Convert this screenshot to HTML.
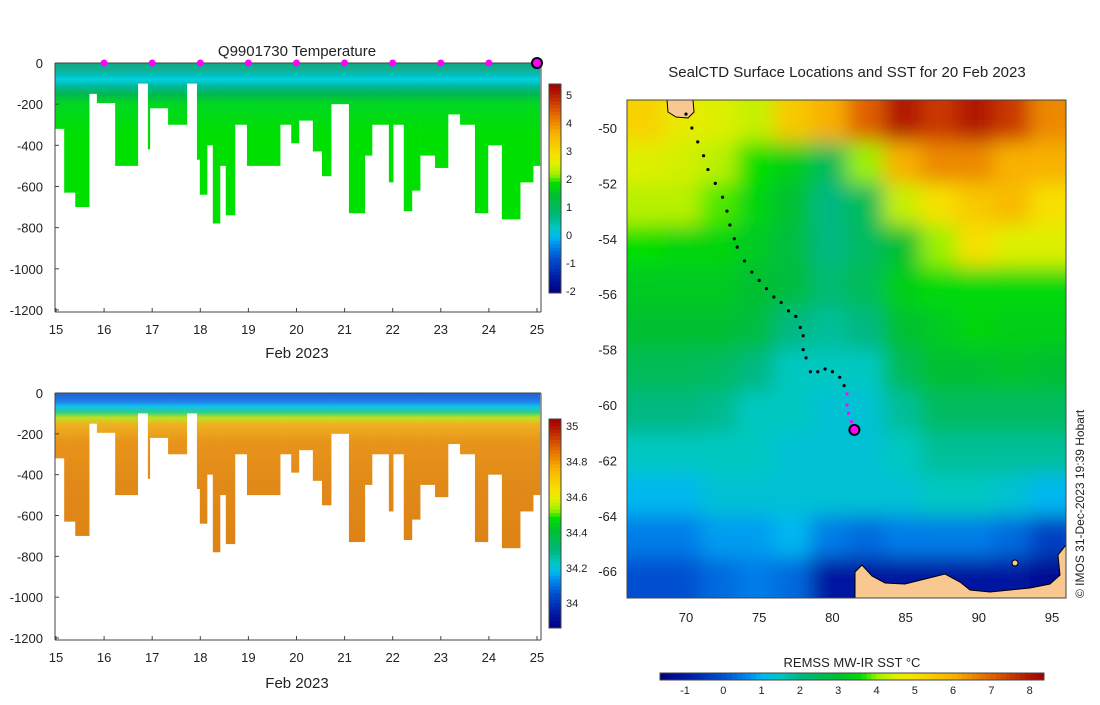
<!DOCTYPE html>
<html><head><meta charset="utf-8">
<style>
body{margin:0;background:#fff;}
svg text{font-family:"Liberation Sans","DejaVu Sans",sans-serif;font-size:13px;fill:#222;}
</style></head>
<body>
<svg id="svg" width="1100" height="700" viewBox="0 0 1100 700" xmlns="http://www.w3.org/2000/svg">
<defs>
<linearGradient id="gT" gradientUnits="userSpaceOnUse" x1="0" y1="63" x2="0" y2="310">
<stop offset="0" stop-color="#10a888"/><stop offset="0.025" stop-color="#10b090"/>
<stop offset="0.05" stop-color="#00c0c0"/><stop offset="0.067" stop-color="#00d0e0"/>
<stop offset="0.092" stop-color="#00b8a0"/><stop offset="0.125" stop-color="#00b850"/>
<stop offset="0.167" stop-color="#00d820"/><stop offset="0.3" stop-color="#00e000"/>
<stop offset="1" stop-color="#00e000"/></linearGradient>
<linearGradient id="gS" gradientUnits="userSpaceOnUse" x1="0" y1="393" x2="0" y2="638">
<stop offset="0" stop-color="#2060d0"/><stop offset="0.035" stop-color="#2080e8"/>
<stop offset="0.055" stop-color="#10c0f0"/><stop offset="0.08" stop-color="#30d080"/>
<stop offset="0.1" stop-color="#c0e020"/><stop offset="0.13" stop-color="#f0b020"/>
<stop offset="0.2" stop-color="#e8941a"/><stop offset="0.4" stop-color="#e08818"/>
<stop offset="1" stop-color="#d87c10"/></linearGradient>
<filter id="blur" filterUnits="userSpaceOnUse" x="560" y="40" width="570" height="620"><feGaussianBlur stdDeviation="10"/></filter>
<clipPath id="mapclip"><rect x="627" y="100" width="439" height="498"/></clipPath>
</defs>
<g id="g1"></g><g id="g2"></g><g id="g3"></g>
<text x="297" y="56" text-anchor="middle" style="font-size:15px">Q9901730  Temperature</text>
<text x="847" y="77" text-anchor="middle" style="font-size:15px">SealCTD Surface Locations and SST for 20 Feb 2023</text>
<text x="297" y="358" text-anchor="middle" style="font-size:15px">Feb 2023</text>
<text x="297" y="688" text-anchor="middle" style="font-size:15px">Feb 2023</text>
<text x="852" y="667" text-anchor="middle">REMSS MW-IR SST °C</text>
<text transform="translate(1084,598) rotate(-90)" style="font-size:12px">© IMOS 31-Dec-2023 19:39 Hobart</text>
</svg>
<script>
const colStart=[14.98,15.17,15.40,15.69,15.85,16.23,16.70,16.91,16.95,17.33,17.72,17.93,17.99,18.14,18.26,18.41,18.53,18.72,18.97,19.66,19.89,20.05,20.34,20.53,20.72,21.09,21.42,21.57,21.92,22.01,22.23,22.40,22.57,22.88,23.15,23.40,23.71,23.98,24.27,24.65,24.92];
const colEnd=25.06;
const colDepth=[320,630,700,150,195,500,100,420,220,300,100,470,640,400,780,500,740,300,500,300,390,280,430,550,200,730,450,300,580,300,720,620,450,510,250,300,730,400,760,580,500];
const dayTicks=[15,16,17,18,19,20,21,22,23,24,25];
const depthTicks=[0,-200,-400,-600,-800,-1000,-1200];
const markerDays=[16,17,18,19,20,21,22,23,24];
const tempTicks=[5,4,3,2,1,0,-1,-2];
const salTicks=[35,34.8,34.6,34.4,34.2,34];
const sstTicks=[-1,0,1,2,3,4,5,6,7,8];
const mapLats=[-49.75,-51.25,-52.75,-54.25,-55.75,-57.25,-58.75,-60.25,-61.75,-63.25,-64.75,-66.25];
const mapLons=[67.25,69.75,72.25,74.75,77.25,79.75,82.25,84.75,87.25,89.75,92.25,94.75];
const sst=[
[5.3,4.7,4.5,4.3,5.5,6,7,8,7.5,8,7.5,6.5],
[4.5,4.4,4.2,3.6,3.3,2.5,4,6,6.5,6.5,6,6],
[4.2,4.2,3.8,3.4,3,2,2.5,4.3,5,5.5,5.8,5],
[3.6,3.4,3.4,3.2,2.8,2,2.4,3,4,5,4.5,4.5],
[3.2,3.2,3.2,3,2.8,2.2,2.5,3.3,3.5,3.5,3.5,3.5],
[3,3,3,2.8,2,1.8,2,3,3.2,3.4,3.3,3.3],
[2.5,2.5,2.4,2,1.5,1.5,1.5,2.5,3,3,3.1,3],
[2,2,1.9,1.5,1.5,1.3,1.3,1.8,2.4,2.4,2.4,2.4],
[1.5,1.5,1.5,1.5,1.3,1.3,1.3,1.5,1.8,1.8,1.8,1.8],
[1,1,1.3,1.3,1.3,1.3,1.3,1.3,1.5,1.5,1.3,1],
[0.5,0.5,0.8,0.8,1,0.5,0.3,0.5,0.5,0.5,0.3,-0.3],
[0,0,0.3,0.5,0.3,-1,-1,-1,-1,-1,-1,-1.3]];
const trackLon=[70,70.4,70.8,71.2,71.5,72,72.5,72.8,73,73.3,73.5,74,74.5,75,75.5,76,76.5,77,77.5,77.8,78,78,78.2,78.5,79,79.5,80,80.5,80.8,81,81,81.1,81.3,81.5];
const trackLat=[-49.5,-50,-50.5,-51,-51.5,-52,-52.5,-53,-53.5,-54,-54.3,-54.8,-55.2,-55.5,-55.8,-56.1,-56.3,-56.6,-56.8,-57.2,-57.5,-58,-58.3,-58.8,-58.8,-58.7,-58.8,-59,-59.3,-59.6,-60,-60.3,-60.6,-60.9];
const NS='http://www.w3.org/2000/svg';
function mk(p,t,a){const e=document.createElementNS(NS,t);for(const k in a)e.setAttribute(k,a[k]);p.appendChild(e);return e;}
const cmStops=[[0,[0,0,128]],[0.065,[0,24,160]],[0.165,[0,80,208]],[0.235,[0,144,240]],[0.265,[0,184,240]],[0.315,[0,200,192]],[0.365,[0,184,128]],[0.465,[0,192,48]],[0.525,[0,224,0]],[0.565,[160,240,0]],[0.615,[224,240,0]],[0.665,[248,224,0]],[0.765,[248,176,0]],[0.865,[224,96,0]],[0.965,[176,16,0]],[1,[160,0,0]]];
function jet(t){t=Math.max(0,Math.min(1,t));for(let i=1;i<cmStops.length;i++){if(t<=cmStops[i][0]){const a=cmStops[i-1],b=cmStops[i],f=(t-a[0])/(b[0]-a[0]);const c=a[1].map((v,k)=>Math.round(v+(b[1][k]-v)*f));return `rgb(${c[0]},${c[1]},${c[2]})`;}}return 'rgb(160,0,0)';}
const xd=d=>56+(d-15)*48.1;
function panel(g,y0,k,grad,name){
 const y=d=>y0-d*k;
 for(let i=0;i<colStart.length;i++){
  const e=i+1<colStart.length?colStart[i+1]:colEnd;
  const r=mk(g,'rect',{x:xd(colStart[i]),y:y0,width:xd(e)-xd(colStart[i])+0.3,height:colDepth[i]*k,fill:`url(#${grad})`});
  
  
 }
 mk(g,'line',{x1:55,y1:y0,x2:541,y2:y0,stroke:'#444'});
 mk(g,'line',{x1:55,y1:y0,x2:55,y2:y(-1200)+2,stroke:'#444'});
 mk(g,'line',{x1:541,y1:y0,x2:541,y2:y(-1200)+2,stroke:'#444'});
 mk(g,'line',{x1:55,y1:y(-1200)+2,x2:541,y2:y(-1200)+2,stroke:'#444'});
 depthTicks.forEach(v=>{const t=mk(g,'text',{x:43,y:y(v)+5,'text-anchor':'end'});t.textContent=v;
  
  mk(g,'line',{x1:55,y1:y(v),x2:59,y2:y(v),stroke:'#444'});});
 dayTicks.forEach(v=>{const t=mk(g,'text',{x:xd(v),y:y(-1200)+24,'text-anchor':'middle'});t.textContent=v;
  
  mk(g,'line',{x1:xd(v),y1:y(-1200)+2,x2:xd(v),y2:y(-1200)-2,stroke:'#444'});});
}
function vbar(g,x,top,bot,vTop,vBot,ticks,name,lo,hi){
 const n=60;for(let i=0;i<n;i++){const v=vTop-(vTop-vBot)*(i+0.5)/n;mk(g,'rect',{x:x,y:top+(bot-top)*i/n,width:12,height:(bot-top)/n+0.5,fill:jet((v-lo)/(hi-lo))});}
 mk(g,'rect',{x:x,y:top,width:12,height:bot-top,fill:'none',stroke:'#444'});
 ticks.forEach(v=>{const yy=top+(vTop-v)/(vTop-vBot)*(bot-top);const t=mk(g,'text',{x:x+17,y:yy+4,style:'font-size:11px'});t.textContent=v;
  });
}
const g1=document.getElementById('g1');
panel(g1,63,0.2058,'gT','temp');
markerDays.forEach(d=>{const p=mk(g1,'circle',{cx:xd(d),cy:63,r:3.5,fill:'#ff00ff'});
 });
mk(g1,'circle',{cx:xd(25),cy:63,r:5,fill:'#ff00ff',stroke:'#000','stroke-width':2});
vbar(g1,549,84,293,5.4,-2.07,tempTicks,'temp-colorbar',-2.07,5.4);
const g2=document.getElementById('g2');
panel(g2,393,0.2042,'gS','sal');
vbar(g2,549,419,628,35.04,33.86,salTicks,'sal-colorbar',33.86,35.04);
const g3=document.getElementById('g3');
const lx=l=>686+(l-70)*14.64, ly=l=>128+(-50-l)*27.7;
const mg=mk(g3,'g',{'clip-path':'url(#mapclip)'});
mk(mg,'rect',{x:627,y:100,width:439,height:498,fill:jet((2+1.65)/10)});
const hg=mk(mg,'g',{filter:'url(#blur)'});
mapLats.forEach((la,i)=>mapLons.forEach((lo,j)=>{const c=mk(hg,'rect',{x:lx(lo-1.25)-(j==0?30:0),y:ly(la+0.75)-(i==0?30:0),width:14.64*2.5+(j==0||j==11?30:0)+1,height:27.7*1.5+(i==0||i==11?30:0)+1,fill:jet((sst[i][j]+1.65)/10.02)});
 }));
const land=mk(mg,'path',{d:`M855,598 L855,572 L862,565 L872,576 L885,583 L905,584 L925,579 L945,574 L960,582 L970,590 L990,592 L1010,590 L1030,588 L1050,584 L1060,575 L1058,555 L1066,545 L1066,598 Z`,fill:'#f8c890',stroke:'#000','stroke-width':1});

const isl=mk(mg,'path',{d:'M667,100 L693,100 L694,112 L688,118 L676,117 L668,112 Z',fill:'#f8c890',stroke:'#000'});

mk(mg,'circle',{cx:1015,cy:563,r:3,fill:'#f8c890',stroke:'#000'});
trackLon.forEach((lo,i)=>{const c=mk(mg,'circle',{cx:lx(lo),cy:ly(trackLat[i]),r:1.6,fill:i>=trackLon.length-5?'#ff00ff':'#000'});
 });
mk(mg,'circle',{cx:lx(trackLon[trackLon.length-1]),cy:ly(trackLat[trackLat.length-1]),r:5,fill:'#ff00ff',stroke:'#000','stroke-width':2});
mk(g3,'rect',{x:627,y:100,width:439,height:498,fill:'none',stroke:'#444'});
[-50,-52,-54,-56,-58,-60,-62,-64,-66].forEach(v=>{const t=mk(g3,'text',{x:617,y:ly(v)+5,'text-anchor':'end'});t.textContent=v;
 });
[70,75,80,85,90,95].forEach(v=>{const t=mk(g3,'text',{x:lx(v),y:622,'text-anchor':'middle'});t.textContent=v;
 });
for(let i=0;i<80;i++){const v=-1.65+10.02*(i+0.5)/80;mk(g3,'rect',{x:660+384*i/80,y:673,width:384/80+0.5,height:7,fill:jet((v+1.65)/10.02)});}
mk(g3,'rect',{x:660,y:673,width:384,height:7,fill:'none',stroke:'#444'});
sstTicks.forEach(v=>{const t=mk(g3,'text',{x:685+(v+1)*38.3,y:694,'text-anchor':'middle',style:'font-size:11px'});t.textContent=v;
 });
</script>
</body></html>
